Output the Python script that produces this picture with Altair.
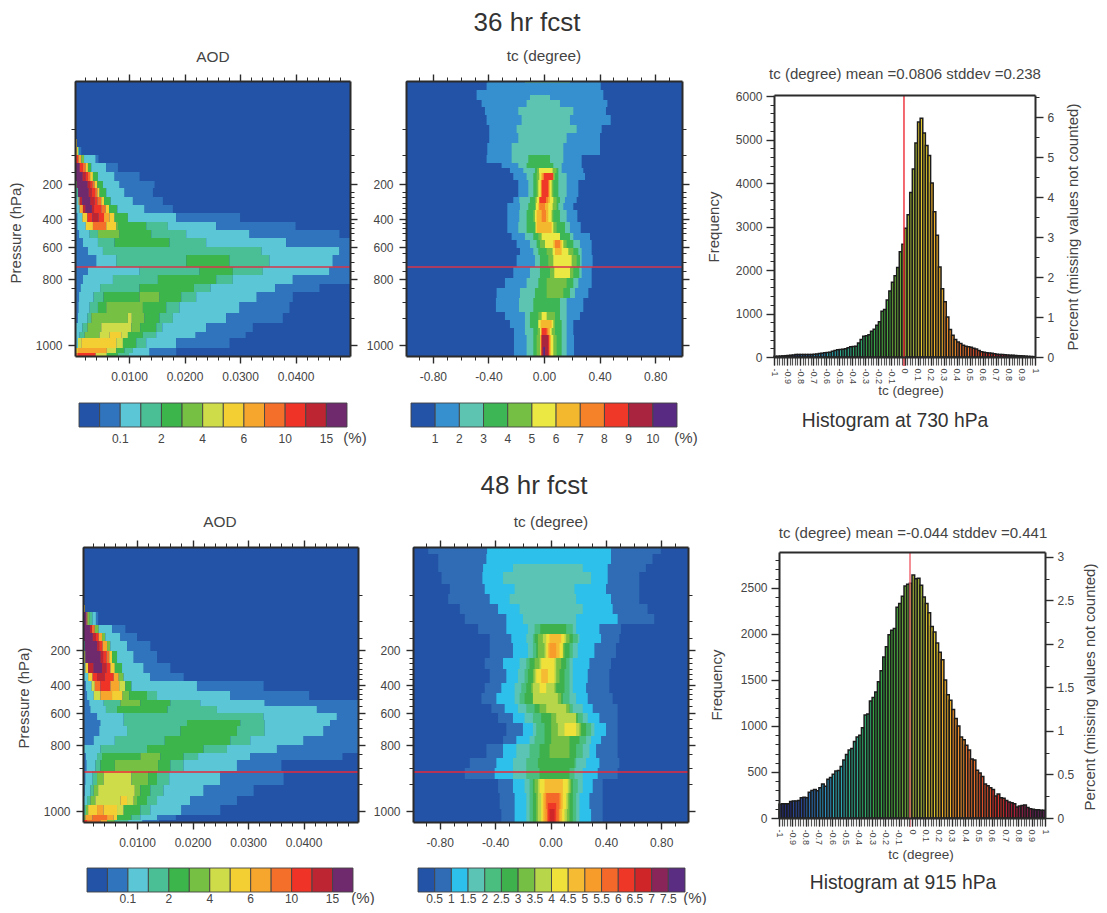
import altair as alt
import pandas as pd

W, H = 1091, 897

PAL_AOD = ["#2353a6","#2f74bd","#5bc6d6","#4abf95","#3cb64b","#76c043","#cfdc4a","#f3cf34","#f7a62d","#f36f2a","#ef3326","#be2532","#6f2a6d"]
PAL_TC1 = ["#2353a6","#3690d0","#5cc4b0","#3db755","#74bf44","#ece843","#f4b82f","#f58229","#ef3827","#a9243f","#582a82"]
PAL_TC2 = ["#2353a6","#2f6cb5","#2cc0ea","#5bc4b4","#4abe7f","#3eb04c","#75bf44","#b8d649","#efe03a","#f4bb33","#f79b2b","#f4682a","#ef3727","#cf2529","#8a2559","#5a2d82"]
HIST_COLORS = ["#24307f","#2a4a9a","#2a6cb0","#2a8dbb","#2aa6b0","#2bab8c","#2fa86a","#35a648","#49a83e","#6bad3a",
               "#a5b83a","#e3c92f","#f0b02a","#f0902a","#e8702a","#e05028","#d83028","#b82038","#8a2048","#5a2050"]

LBL_AOD = ["0.1","2","4","6","10","15"]
POS_AOD = [2,4,6,8,10,12]
LBL_TC1 = ["1","2","3","4","5","6","7","8","9","10"]
POS_TC1 = [1,2,3,4,5,6,7,8,9,10]
LBL_TC2 = ["0.5","1","1.5","2","2.5","3","3.5","4","4.5","5","5.5","6","6.5","7","7.5"]
POS_TC2 = list(range(1,16))

LEVEL_MAJOR = [103,138,166,198,264]
PRESSURE_LABELS = ["200","400","600","800","1000"]
LEVEL_MINOR = [48,74,91,111,116,122,127,132,142,147,152,159,172,181,190,207,221,237]

AOD_MAJOR = [10,20,30,40]
AOD_MINOR = [2,4,6,8,12,14,16,18,22,24,26,28,32,34,36,38,42,44,46,48]
TC_MAJOR = [-0.8,-0.4,0,0.4,0.8]
TC_MINOR = [-0.9,-0.7,-0.6,-0.5,-0.3,-0.2,-0.1,0.1,0.2,0.3,0.5,0.6,0.7,0.9]

# AOD rows: level top, level bottom, then class, right edge (0.001 AOD) runs
AOD1 = [
 (58,66,[7,.6]),
 (66,74,[10,.5,7,.8,3,1.0,1,1.4]),
 (74,82,[10,.9,8,1.4,5,1.9,2,4.0,1,4.5]),
 (82,91,[12,1.1,10,1.7,9,2.2,7,2.6,4,3.2,2,5.9,1,8.0]),
 (91,100,[12,1.6,11,2.2,10,2.6,9,3.0,7,3.5,4,4.4,2,7.4,1,11.9]),
 (100,107,[5,.6,12,2.5,11,3.0,10,3.4,9,3.8,7,4.3,4,5.3,2,8.3,1,14.6]),
 (107,116,[3,.8,12,2.7,11,3.3,10,3.9,9,4.3,7,4.7,4,5.9,2,9.2,1,14.3]),
 (116,124,[2,.9,7,1.1,11,1.6,12,3.0,11,3.8,10,4.3,9,5.0,7,5.5,4,6.7,2,10.7,1,16.1]),
 (124,132,[2,1.1,8,1.7,11,2.2,12,3.3,11,3.7,10,5.0,9,5.8,7,6.4,4,7.9,2,12.8,1,17.9]),
 (132,141,[1,.7,2,1.6,7,2.5,10,3.4,11,4.5,10,5.5,8,6.5,7,7.4,4,9.8,2,18.5,1,30]),
 (141,149,[1,.7,2,2.2,7,3.5,9,5.9,7,7.7,5,8,4,13.1,3,17.0,2,25.7,1,40]),
 (149,157,[1,1.0,2,2.9,3,4.4,5,8.3,4,14,3,20.3,2,31.7,1,47.9]),
 (157,166,[1,1.7,2,4.4,3,7.4,4,17.3,3,23.9,2,38.3,1,49.8]),
 (166,174,[1,2.6,2,5.3,3,33.9,2,47.9,1,49.8]),
 (174,186,[1,4.1,2,7.7,3,20.3,4,28.1,3,35.3,2,46.7,1,49.8]),
 (186,194,[1,2.6,2,11.9,3,22.7,4,28.7,3,34.1,2,46.1,1,49.8]),
 (194,203,[1,1.7,2,7.1,3,15.2,4,25.7,3,28.7,2,39.5,1,49.8]),
 (203,211,[1,1.3,2,4.8,3,11.9,4,21.7,3,24.7,2,36.3,1,44.3]),
 (211,221,[1,1.0,2,3.6,3,5.4,4,11.9,5,15.5,4,19.4,3,22.1,2,33,1,39.5]),
 (221,232,[1,.9,2,2.9,3,4.4,4,5.9,5,12.5,4,16.7,3,19.1,2,29.9,1,38.9]),
 (232,242,[1,.8,2,2.5,3,3.2,5,9.8,6,10.5,5,12.8,4,15.5,3,17.9,2,27.5,1,37.7]),
 (242,251,[2,1.6,3,2.5,5,5.0,6,10.4,5,12,4,14.9,3,16,2,23.9,1,32.3]),
 (251,257,[2,1.1,3,2.0,5,4.7,6,6.5,7,8.6,6,9.8,4,12.5,3,14.9,2,22,1,31]),
 (257,267,[2,.8,6,1.4,7,7.7,6,8.9,4,11.3,3,13.1,2,18.5,1,28.1]),
 (267,272,[7,.8,8,6.0,6,7.7,4,9.2,3,10.7,2,13.7,1,18.5]),
 (272,275,[9,.8,10,4.0,6,6,4,8,3,10,2,13.7,1,18.5]),
]
AOD2 = [
 (58,65,[7,.6]),
 (65,78,[12,.9,9,1.1,5,1.5,3,2.0,2,2.6,1,3.0]),
 (78,86,[12,1.5,11,1.9,9,2.4,5,3.1,2,5.5,1,7.9]),
 (86,94,[12,2.0,11,2.6,10,3.1,8,3.7,5,4.3,2,7.0,1,10]),
 (94,104,[3,.6,12,2.8,11,3.2,10,3.8,8,4.6,5,5.2,2,8.2,1,12.4]),
 (104,116,[6,.7,12,3.4,11,3.9,10,4.5,9,5.0,7,5.5,4,6.4,2,9.4,1,13.6]),
 (116,126,[2,.7,7,1.2,11,2.2,12,3.7,11,4.5,10,5.2,7,6.0,4,7.3,2,11.2,1,16]),
 (126,134,[2,1.2,7,2.0,10,2.8,11,4.2,10,5.8,8,6.7,5,7.6,2,12.4,1,18.4]),
 (134,144,[1,.8,2,1.8,6,2.4,9,3.4,10,5.2,8,6.8,6,7.9,4,9,2,20.8,1,32.8]),
 (144,153,[1,1.0,2,2.2,6,3.4,8,5.5,7,7.4,5,8.6,4,11.8,3,13.6,2,26.8,1,41]),
 (153,159,[1,1.4,2,4.0,3,7,5,10.6,4,16,3,21.4,2,33,1,49.8]),
 (159,166,[1,1.6,2,4.4,3,6.4,4,15.5,3,24.4,2,42.4,1,49.8]),
 (166,173,[1,2.8,2,7.6,3,32.8,2,46,1,49.8]),
 (173,179,[1,3.4,2,7.6,3,19,4,28.6,3,33,2,44.8,1,49.8]),
 (179,189,[1,3.2,2,8.2,3,17.8,4,28,3,33,2,43.6,1,49.8]),
 (189,198,[1,2.2,2,6.0,3,15,4,26.8,3,30.4,2,40,1,49.8]),
 (198,206,[2,3.4,3,11.8,4,22,3,26.2,2,35.2,1,49.8]),
 (206,213,[1,.8,2,2.8,3,3.7,4,10.6,5,14.2,4,18.4,3,21,2,30.4,1,47]),
 (213,224,[1,.9,2,2.5,3,3.4,4,6,5,13.8,4,16,3,18.4,2,28,1,36]),
 (224,238,[1,.7,2,2.0,3,2.8,5,4,6,9.0,5,12.0,4,13.6,3,15.8,2,25,1,36.4]),
 (238,249,[1,.6,2,1.6,3,2.2,5,3.0,6,9.6,5,10.6,4,12.4,3,14.8,2,22,1,31]),
 (249,258,[2,1.0,3,1.6,5,2.5,6,7.0,7,8.2,6,9.4,5,10,4,11.8,3,13.6,2,19.6,1,28]),
 (258,268,[3,.8,5,1.2,7,2.8,8,4,7,6.4,6,7.6,4,10.6,3,12.4,2,18,1,25]),
 (268,273,[5,.7,8,2,9,4.6,8,5.8,7,6.4,4,9,3,10.6,2,13.6,1,17]),
 (273,275,[10,1,9,3.4,8,4.6,5,6,3,8.4,2,11,1,14]),
]
# tc rows: level top, level bottom, then nested left,right edges (0.001 degree) for class 1, 2, 3...
TC1 = [
 (0,2,[-408,408,-137,187]),
 (2,9,[-413,408]),
 (9,14,[-485,427]),
 (14,19,[-485,427,-101,43]),
 (19,26,[-449,456,-125,115]),
 (26,34,[-425,446,-185,211]),
 (34,44,[-413,480,-161,187]),
 (44,52,[-394,415,-197,235]),
 (52,62,[-394,403,-185,163]),
 (62,74,[-408,403,-233,139]),
 (74,82,[-413,271,-233,139,-113,43]),
 (82,87,[-305,271,-185,127,-125,67]),
 (87,92,[-245,283,-149,127,-65,103,-50,90,-36,62]),
 (92,99,[-221,295,-125,163,-77,103,-53,79,-34,67,-20,60,-10,55,0,67]),
 (99,116,[-185,247,-113,163,-77,103,-53,67,-41,55,-24,43,-17,35,-17,31]),
 (116,122,[-221,235,-178,151,-101,115,-65,91,-53,67,-29,43,-25,30,-34,14]),
 (122,129,[-264,211,-173,139,-113,103,-65,91,-58,62,-41,31,-34,7]),
 (129,141,[-264,240,-178,163,-125,115,-77,67,-65,55,-53,31,-17,14]),
 (141,152,[-264,264,-185,187,-125,151,-65,91,-60,67,-53,55]),
 (152,159,[-233,331,-137,211,-77,187,-41,115,-17,115]),
 (159,167,[-197,343,-101,259,-53,211,-29,163,7,139,67,127,79,115]),
 (167,174,[-173,343,-77,271,-41,247,19,211,62,175,79,127]),
 (174,186,[-197,350,-65,271,-29,259,31,235,67,199]),
 (186,197,[-221,343,-101,271,-29,254,43,211,74,187]),
 (197,207,[-281,343,-125,247,-41,211,19,163]),
 (207,217,[-341,319,-173,223,-65,187,19,139]),
 (217,231,[-346,283,-180,163,-77,115]),
 (231,239,[-281,259,-137,163,-101,115,-41,79,-17,19]),
 (239,247,[-245,211,-137,163,-101,127,-41,79,-41,67,-24,55]),
 (247,254,[-216,211,-137,163,-77,127,-46,79,-29,55,-17,43,-17,31,-17,19]),
 (254,266,[-216,216,-125,163,-77,127,-53,91,-29,67,-24,50,-24,43,-17,36,-17,31]),
 (266,275,[-216,216,-125,163,-77,127,-53,91,-29,67,-24,50,-24,43,-17,36,-17,31,-5,7]),
]
TC2 = [
 (0,7,[-883,797,-458,437]),
 (7,17,[-811,737,-463,437]),
 (17,25,[-811,689,-487,413,-271,233]),
 (25,37,[-787,641,-492,413,-343,293]),
 (37,47,[-727,641,-475,401,-259,173]),
 (47,57,[-739,641,-439,437,-295,185]),
 (57,67,[-655,701,-379,449,-223,233]),
 (67,77,[-619,749,-319,485,-199,185]),
 (77,87,[-523,509,-319,353,-163,185,-115,161,-74,113]),
 (87,96,[-439,497,-283,365,-175,209,-127,197,-115,161,-91,137,-55,113,-31,101,-7,77]),
 (96,111,[-439,473,-271,317,-163,197,-127,161,-103,137,-91,101,-43,89,-31,89,-19,65,-7,41]),
 (111,122,[-475,437,-343,281,-223,161,-175,137,-151,113,-115,77,-79,41,-67,29]),
 (122,136,[-439,425,-319,269,-235,161,-187,137,-163,101,-127,65,-115,41,-103,29,-67,-19]),
 (136,146,[-475,425,-355,257,-259,161,-211,137,-175,101,-139,41,-127,29,-79,-31]),
 (146,157,[-499,449,-391,269,-259,185,-223,137,-187,89,-127,77,-127,53]),
 (157,166,[-427,485,-331,305,-235,233,-175,161,-115,137,-79,137,-31,113]),
 (166,176,[-379,485,-271,353,-187,269,-127,233,-67,197,5,185,41,185]),
 (176,189,[-319,485,-199,401,-127,317,-103,293,-43,257,5,221,53,209,101,185]),
 (189,197,[-343,485,-247,365,-151,293,-115,257,-43,209,5,137]),
 (197,211,[-463,485,-343,329,-247,281,-151,233,-79,185,-7,137]),
 (211,221,[-583,497,-391,353,-271,257,-175,185,-91,173]),
 (221,232,[-619,485,-403,341,-271,233,-175,173,-79,137]),
 (232,246,[-379,377,-271,305,-187,233,-151,197,-127,161,-115,149,-91,137,-79,125,-43,89]),
 (246,256,[-367,377,-259,281,-175,209,-151,185,-127,161,-103,137,-91,125,-67,113,-55,89,-43,77,-31,65]),
 (256,262,[-367,377,-259,281,-175,209,-151,185,-127,161,-103,137,-91,125,-67,113,-55,89,-43,77,-31,65,-19,41]),
 (262,275,[-355,377,-259,293,-175,209,-151,185,-127,161,-103,137,-91,118,-67,101,-55,84,-43,70,-26,60,-19,41,-7,29]),
]

HIST1 = [15,18,22,26,30,35,40,48,55,60,58,55,55,58,60,65,70,78,88,100,105,112,130,150,165,175,180,190,210,
         235,240,250,320,400,475,490,510,590,640,730,810,1050,1090,1310,1520,1720,1870,2060,2420,2590,
         2960,3270,3780,4320,4920,5400,5490,5150,4860,4630,4000,3340,2800,2070,1570,1270,920,630,500,400,
         345,310,270,245,235,225,200,185,150,120,110,100,90,85,75,65,60,55,50,45,40,38,35,30,28,25,20,15,12,8]
HIST2 = [150,155,155,155,180,185,185,190,220,225,220,280,300,310,295,330,370,345,420,440,
         475,510,515,560,630,690,740,755,830,880,900,980,1120,1130,1270,1310,1370,1480,1600,1750,
         1860,1990,2040,2060,2290,2330,2410,2520,2540,2550,2640,2600,2605,2530,2400,2330,2230,2080,2020,1900,
         1800,1720,1500,1340,1280,1180,1080,1000,880,850,790,740,640,630,520,490,450,370,350,330,
         310,240,260,220,215,190,175,165,155,120,130,135,140,115,100,95,90,90,85,85]
HIST_X_MAJOR = [-1,-0.9,-0.8,-0.7,-0.6,-0.5,-0.4,-0.3,-0.2,-0.1,0,0.1,0.2,0.3,0.4,0.5,0.6,0.7,0.8,0.9,1]

INK = "#2b2b2b"
LABEL = "#444444"
FONT = "Liberation Sans"
MINUS = "replace(format(datum.value,'%s'),'\u2212','-')"


def ax(orient, edge, values, size, width, labels=False, domain=False, tick=INK, **kw):
    offset = {"left": -edge, "top": -edge, "right": edge - W, "bottom": edge - H}[orient]
    return alt.Axis(orient=orient, offset=offset, values=values, tickSize=size, tickWidth=width,
                    tickColor=tick, labels=labels, domain=domain, domainColor=INK, domainWidth=2,
                    grid=False, title=None, labelFont=FONT, labelColor=LABEL, labelOverlap=False,
                    labelFlush=False, labelBound=False, zindex=1, **kw)


def axes_layer(xdom, xrng, ydom, yrng, xaxis, yaxis):
    df = pd.DataFrame({"x": xdom[:2], "y": ydom[:2]})
    return alt.Chart(df).mark_point(opacity=0, size=1).encode(
        x=alt.X("x:Q", scale=alt.Scale(domain=xdom, range=xrng, nice=False, zero=False), axis=xaxis),
        y=alt.Y("y:Q", scale=alt.Scale(domain=ydom, range=yrng, nice=False, zero=False), axis=yaxis),
    )


def rects(rows, xdom, xrng, ydom, yrng, **mark):
    df = pd.DataFrame(rows, columns=["x", "x2", "y", "y2", "c"])
    return alt.Chart(df).mark_rect(**mark).encode(
        x=alt.X("x:Q", scale=alt.Scale(domain=xdom, range=xrng, nice=False, zero=False), axis=None),
        x2="x2:Q",
        y=alt.Y("y:Q", scale=alt.Scale(domain=ydom, range=yrng, nice=False, zero=False), axis=None),
        y2="y2:Q",
        color=alt.Color("c:N", scale=None, legend=None),
    )


def text(t, x, y, size, angle=0, align="center", color=LABEL):
    return alt.Chart(pd.DataFrame({"t": [t]})).mark_text(
        font=FONT, fontSize=size, angle=angle, align=align, baseline="middle", color=color
    ).encode(x=alt.value(x - 8), y=alt.value(y - 8), text="t:N")


def cells_aod(rows, pal, xmin):
    out = []
    for top, bot, runs in rows:
        left = xmin
        for i in range(0, len(runs), 2):
            right = runs[i + 1] / 1000
            out.append((left, right, top, bot, pal[runs[i]]))
            left = right
    return out


def cells_tc(rows, pal):
    out = []
    for top, bot, edges in rows:
        for i in range(0, len(edges), 2):
            out.append((edges[i] / 1000, edges[i + 1] / 1000, top, bot, pal[i // 2 + 1]))
    return out


def heat_panel(cells, pal, xdom, major, minor, fmt, x0, x1, y0, y1, red_level, red_color):
    xr, yr = [x0 - 8, x1 - 8], [y0 - 8, y1 - 8]
    ydom = [0, 275]
    bg = [(xdom[0], xdom[1], 0, 275, pal[0])]
    ylab = " : ".join(f"datum.value=={v} ? '{s}'" for v, s in zip(LEVEL_MAJOR, PRESSURE_LABELS)) + " : ''"
    out = [rects(bg, xdom, xr, ydom, yr), rects(cells, xdom, xr, ydom, yr)]
    df = pd.DataFrame({"y": [red_level], "a": [xdom[0]], "b": [xdom[1]]})
    out.append(alt.Chart(df).mark_rule(color=red_color, strokeWidth=1.4).encode(
        x=alt.X("a:Q", scale=alt.Scale(domain=xdom, range=xr, nice=False, zero=False), axis=None),
        x2="b:Q",
        y=alt.Y("y:Q", scale=alt.Scale(domain=ydom, range=yr, nice=False, zero=False), axis=None),
    ))
    b, t, l, r = y1 - 8, y0 - 8, x0 - 8, x1 - 8
    out.append(axes_layer(xdom, xr, ydom, yr,
        ax("bottom", b, major, 7, 1.4, labels=True, domain=True, labelExpr=MINUS % fmt, labelFontSize=12, labelPadding=8),
        ax("left", l, LEVEL_MAJOR, 7, 1.4, labels=True, domain=True, labelExpr=ylab, labelFontSize=12, labelPadding=6)))
    out.append(axes_layer(xdom, xr, ydom, yr, ax("bottom", b, minor, 4, 1), ax("left", l, LEVEL_MINOR, 4, 1)))
    out.append(axes_layer(xdom, xr, ydom, yr,
        ax("top", t, major, 7, 1.4, domain=True), ax("right", r, LEVEL_MAJOR, 7, 1.4, domain=True)))
    out.append(axes_layer(xdom, xr, ydom, yr, ax("top", t, minor, 4, 1), ax("right", r, LEVEL_MINOR, 4, 1)))
    return out


def colorbar(pal, pos, labels, x0, x1, y0, y1, ylabel, pct_x, pct_y):
    n = len(pal)
    xr = [x0 - 8, x1 - 8]
    scale = alt.Scale(domain=[0, n], range=xr, nice=False, zero=False)
    df = pd.DataFrame({"x": list(range(n)), "x2": [i + 1 for i in range(n)], "c": pal})
    bar = alt.Chart(df).mark_rect(stroke="#444444", strokeWidth=0.9).encode(
        x=alt.X("x:Q", scale=scale, axis=None), x2="x2:Q",
        y=alt.value(y0 - 8), y2=alt.value(y1 - 8),
        color=alt.Color("c:N", scale=None, legend=None))
    lab = alt.Chart(pd.DataFrame({"x": pos, "t": labels})).mark_text(
        font=FONT, fontSize=12, color=LABEL, baseline="middle").encode(
        x=alt.X("x:Q", scale=scale, axis=None), y=alt.value(ylabel - 8), text="t:N")
    return [bar, lab, text("(%)", pct_x, pct_y, 15)]


def hist_panel(vals, x0, x1, y0, y1, ydom, pdom, ymajor, yminor, pmajor, pminor, rule_x, rule_low, rule_color):
    xdom = [-1, 1]
    xr, yr = [x0 - 8, x1 - 8], [y1 - 8, y0 - 8]
    bars = [(round(-1 + i * .02, 2), round(-1 + (i + 1) * .02, 2), 0, v, HIST_COLORS[i // 5]) for i, v in enumerate(vals)]
    out = [rects(bars, xdom, xr, ydom, yr, stroke="#1c1c1c", strokeWidth=1.5)]
    b, t, l, r = y1 - 8, y0 - 8, x0 - 8, x1 - 8
    xminor = [round(-1 + i * .02, 2) for i in range(101)]
    out.append(axes_layer(xdom, xr, ydom, yr,
        ax("bottom", b, xminor, 8, 1.2, tick="#555555"), ax("left", l, yminor, 4, 1)))
    hfmt = "replace(format(datum.value,'.1~f'),'\u2212','-')"
    out.append(axes_layer(xdom, xr, ydom, yr,
        ax("bottom", b, HIST_X_MAJOR, 8, 1.3, labels=True, domain=True, labelExpr=hfmt, labelAngle=90,
           labelFontSize=9, labelPadding=3, labelAlign="left", labelBaseline="middle"),
        ax("left", l, ymajor, 8, 1.4, labels=True, domain=True, labelFontSize=12, labelPadding=4, format="d")))
    out.append(axes_layer(xdom, xr, pdom, yr,
        ax("top", t, xminor[:1], 0, 0, domain=True),
        ax("right", r, pmajor, 8, 1.4, labels=True, domain=True, labelFontSize=12, labelPadding=4, format="~g")))
    out.append(axes_layer(xdom, xr, pdom, yr, ax("top", t, xminor[:1], 0, 0), ax("right", r, pminor, 4, 1)))
    df = pd.DataFrame({"x": [rule_x], "a": [rule_low], "b": [ydom[1]]})
    out.append(alt.Chart(df).mark_rule(color=rule_color, strokeWidth=1.4).encode(
        x=alt.X("x:Q", scale=alt.Scale(domain=xdom, range=xr, nice=False, zero=False), axis=None),
        y=alt.Y("a:Q", scale=alt.Scale(domain=ydom, range=yr, nice=False, zero=False), axis=None),
        y2="b:Q"))
    return out


def per(step, top, skip):
    return [round(i * step, 3) for i in range(int(round(top / step)) + 1) if round(i * step, 3) not in skip]


AOD_DOM = [0.00027, 0.0498]
TC_DOM = [-0.993, 0.993]
a_major = [v / 1000 for v in AOD_MAJOR]
a_minor = [v / 1000 for v in AOD_MINOR]
RED = "#d8344a"

layers = []
layers += heat_panel(cells_aod(AOD1, PAL_AOD, AOD_DOM[0]), PAL_AOD, AOD_DOM, a_major, a_minor, ".4f", 75, 350, 81, 356, 186, RED)
layers += heat_panel(cells_tc(TC1, PAL_TC1), PAL_TC1, TC_DOM, TC_MAJOR, TC_MINOR, ".2f", 406, 682, 81, 356, 186, RED)
layers += heat_panel(cells_aod(AOD2, PAL_AOD, AOD_DOM[0]), PAL_AOD, AOD_DOM, a_major, a_minor, ".4f", 83, 358, 547, 822, 225, "#e8283a")
layers += heat_panel(cells_tc(TC2, PAL_TC2), PAL_TC2, TC_DOM, TC_MAJOR, TC_MINOR, ".2f", 413, 688, 547, 822, 225, "#e8283a")

layers += hist_panel(HIST1, 774, 1035, 95, 357, [0, 6023], [0, 6.55],
                     [0,1000,2000,3000,4000,5000,6000], per(200, 6000, [0,1000,2000,3000,4000,5000,6000]),
                     [0,1,2,3,4,5,6], [0.5,1.5,2.5,3.5,4.5,5.5,6.5], -0.004, -207, "#ee2a35")
layers += hist_panel(HIST2, 779, 1045, 552, 818, [0, 2890], [0, 3.057],
                     [0,500,1000,1500,2000,2500], per(100, 2800, [0,500,1000,1500,2000,2500]),
                     [0,0.5,1,1.5,2,2.5,3], [.25,.75,1.25,1.75,2.25,2.75], -0.015, -98, "#f0606a")

layers += colorbar(PAL_AOD, POS_AOD, LBL_AOD, 79, 347, 403, 427, 439, 355, 438)
layers += colorbar(PAL_TC1, POS_TC1, LBL_TC1, 411, 677, 403, 427, 439, 686, 438)
layers += colorbar(PAL_AOD, POS_AOD, LBL_AOD, 87, 353, 868, 892, 899, 363, 898)
layers += colorbar(PAL_TC2, POS_TC2, LBL_TC2, 418, 685, 868, 892, 899, 695, 898)

layers += [
    text("36 hr fcst", 527, 23, 26, color="#333333"),
    text("48 hr fcst", 534, 486, 26, color="#333333"),
    text("AOD", 213, 57, 15.4),
    text("tc (degree)", 544, 56, 15.4),
    text("AOD", 220, 522, 15.4),
    text("tc (degree)", 551, 522, 15.4),
    text("Pressure (hPa)", 16, 233, 15, angle=270),
    text("Pressure (hPa)", 24, 698, 15, angle=270),
    text("tc (degree) mean =0.0806 stddev =0.238", 905, 74, 15),
    text("tc (degree) mean =-0.044 stddev =0.441", 913, 533, 15),
    text("Frequency", 714, 227, 15, angle=270),
    text("Frequency", 717, 685, 15, angle=270),
    text("Percent (missing values not counted)", 1073, 227, 15, angle=270),
    text("Percent (missing values not counted)", 1090, 687, 15, angle=270),
    text("tc  (degree)", 911, 391, 13.5),
    text("tc  (degree)", 921, 855, 13.5),
    text("Histogram at 730 hPa", 895, 421, 19.3, color="#333333"),
    text("Histogram at 915 hPa", 903, 883, 19.3, color="#333333"),
]

chart = alt.layer(*layers).resolve_scale(x="independent", y="independent").properties(
    width=W, height=H, padding=0, autosize=alt.AutoSizeParams(type="none"), background="white"
).configure_view(stroke=None)

chart.save("out.html", embed_options={"renderer": "svg", "actions": False})
